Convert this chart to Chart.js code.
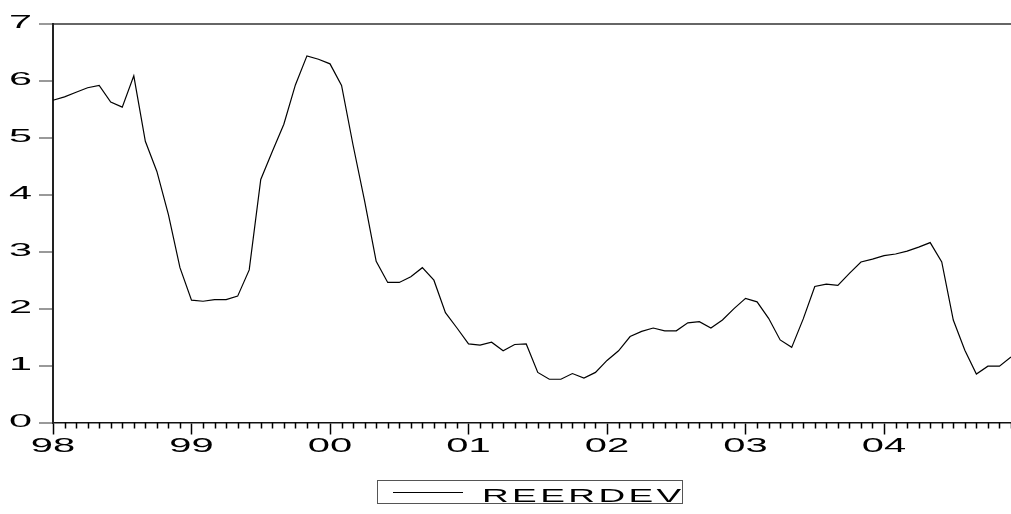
<!DOCTYPE html>
<html>
<head>
<meta charset="utf-8">
<script src="https://cdn.jsdelivr.net/npm/chart.js@4.4.1/dist/chart.umd.min.js"></script>
<style>
  body { margin: 0; background: #fff; }
  canvas { display: block; }
</style>
</head>
<body>
<canvas id="grafico" width="1011" height="514"></canvas>
<script>
const years = ['1998', '1999', '2000', '2001', '2002', '2003', '2004']
const months = ['01', '02', '03', '04', '05', '06', '07', '08', '09', '10', '11', '12']
const yearTicks = ['98', '99', '00', '01', '02', '03', '04']
const yTicks = [0, 1, 2, 3, 4, 5, 6, 7]
const seriesName = 'REERDEV'

const reerdev = [
  5.66, 5.72, 5.80, 5.88, 5.92, 5.63, 5.54, 6.09, 4.94, 4.41, 3.65, 2.72,
  2.15, 2.13, 2.16, 2.16, 2.22, 2.68, 4.27, 4.76, 5.24, 5.93, 6.44, 6.38,
  6.30, 5.92, 4.87, 3.89, 2.83, 2.46, 2.46, 2.56, 2.72, 2.50, 1.93, 1.66,
  1.38, 1.36, 1.41, 1.26, 1.37, 1.38, 0.88, 0.76, 0.76, 0.86, 0.78, 0.88,
  1.09, 1.26, 1.51, 1.60, 1.66, 1.61, 1.61, 1.75, 1.77, 1.66, 1.80, 2.00,
  2.18, 2.12, 1.83, 1.45, 1.32, 1.82, 2.39, 2.43, 2.41, 2.62, 2.82, 2.87,
  2.93, 2.96, 3.01, 3.08, 3.16, 2.82, 1.80, 1.27, 0.85, 0.99, 0.99, 1.15,
]

const labels = years.flatMap((y) => months.map((m) => y + 'M' + m))

// texto ancho al estilo EViews
const wideText = (ctx, text, x, y, sx, align) => {
  ctx.save()
  ctx.translate(x, y)
  ctx.scale(sx, 1)
  ctx.textAlign = align
  ctx.textBaseline = 'alphabetic'
  ctx.fillText(text, 0, 0)
  ctx.restore()
}

const evPlugin = {
  id: 'evPlugin',
  afterDraw(chart) {
    const ctx = chart.ctx
    const xs = chart.scales.x
    const ys = chart.scales.y
    const bottom = chart.chartArea.bottom

    ctx.save()
    // ticks mensuales cortos
    ctx.strokeStyle = '#000'
    ctx.lineWidth = 1.5
    ctx.beginPath()
    for (let i = 0; i < labels.length; i++) {
      if (i % 12 === 0) continue
      const px = Math.round(xs.getPixelForValue(i)) + 0.5
      ctx.moveTo(px, bottom)
      ctx.lineTo(px, bottom + 6)
    }
    ctx.stroke()

    ctx.fillStyle = '#000'
    ctx.font = '21px "Liberation Sans", Arial, sans-serif'
    yearTicks.forEach((t, k) => {
      wideText(ctx, t, xs.getPixelForValue(k * 12), 452, 1.9, 'center')
    })

    ctx.font = '18px "Liberation Sans", Arial, sans-serif'
    yTicks.forEach((v) => {
      wideText(ctx, String(v), 32, ys.getPixelForValue(v) + 4, 2.3, 'right')
    })

    // leyenda
    ctx.strokeStyle = '#555'
    ctx.lineWidth = 1
    ctx.strokeRect(377.5, 480.5, 305, 23)
    ctx.strokeStyle = '#000'
    ctx.beginPath()
    ctx.moveTo(393, 492.5)
    ctx.lineTo(463, 492.5)
    ctx.stroke()

    ctx.font = '18.5px "Liberation Sans", Arial, sans-serif'
    let lx = 482
    for (const ch of chart.data.datasets[0].label) {
      wideText(ctx, ch, lx, 502, 2.0, 'left')
      lx += ctx.measureText(ch).width * 2.0 + 3.4
    }
    ctx.restore()
  },
}

const grafico = new Chart(document.getElementById('grafico'), {
  type: 'line',
  data: {
    labels: labels,
    datasets: [
      {
        label: seriesName,
        data: reerdev,
        borderColor: '#000',
        borderWidth: 1.2,
        pointRadius: 0,
        tension: 0,
        fill: false,
      },
    ],
  },
  options: {
    responsive: false,
    animation: false,
    layout: {
      padding: { left: 39, top: 24, right: 0, bottom: 79.5 },
    },
    scales: {
      x: {
        type: 'category',
        offset: false,
        ticks: { display: false, autoSkip: false },
        grid: {
          drawOnChartArea: false,
          drawTicks: true,
          tickLength: 12,
          tickWidth: 1.5,
          tickColor: (c) => (c.index % 12 === 0 ? '#000' : 'rgba(0,0,0,0)'),
        },
        border: { display: true, color: '#111', width: 1.5 },
      },
      y: {
        min: 0,
        max: 7,
        ticks: { display: false, stepSize: 1 },
        grid: {
          drawOnChartArea: true,
          drawTicks: true,
          tickLength: 14,
          tickWidth: 1.5,
          tickColor: '#777',
          lineWidth: 2,
          color: (c) => (c.tick && c.tick.value === 7 ? '#666' : 'rgba(0,0,0,0)'),
        },
        border: { display: true, color: '#222', width: 2 },
      },
    },
    plugins: {
      legend: { display: false },
      tooltip: { enabled: false },
    },
  },
  plugins: [evPlugin],
})
</script>
</body>
</html>
